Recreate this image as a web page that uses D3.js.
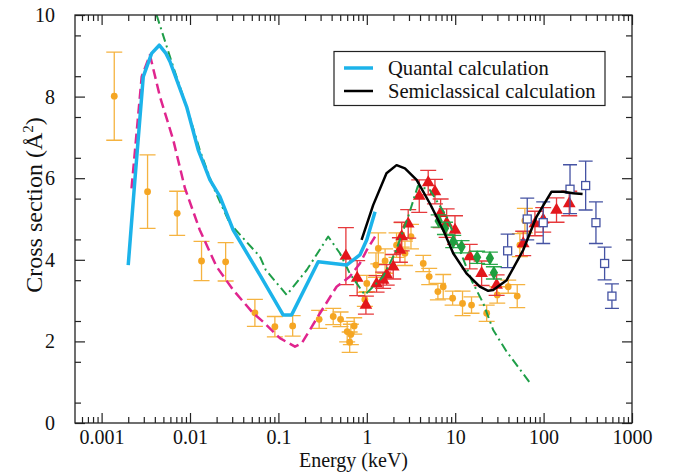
<!DOCTYPE html>
<html>
<head>
<meta charset="utf-8">
<script src="https://cdn.jsdelivr.net/npm/d3@7"></script>
<style>
  body { margin: 0; background: white; }
  text { font-family: 'Liberation Serif', 'Times New Roman', serif; fill: #111; }
</style>
</head>
<body>
<script>
// theory curves, energy in keV, cross section in A^2
const quantalE = [0.002, 0.00238, 0.00296, 0.00368, 0.00449, 0.00534, 0.00593, 0.00916, 0.0124, 0.0168, 0.0218, 0.0308, 0.0617, 0.113, 0.141, 0.282, 0.59, 0.835, 1.0, 1.24];
const quantalS = [3.87, 5.96, 8.49, 9.06, 9.26, 9.06, 8.86, 7.75, 6.69, 5.96, 5.55, 4.73, 3.63, 2.65, 2.65, 3.95, 3.87, 4.12, 4.49, 5.18];

const semiE = [0.873, 1.18, 1.67, 2.17, 2.70, 3.66, 5.17, 7.32, 9.49, 13.4, 19.0, 23.6, 26.9, 38.2, 58.8, 83.3, 123, 167, 216, 276];
const semiS = [4.49, 5.34, 6.12, 6.32, 6.24, 5.96, 5.38, 4.73, 4.16, 3.67, 3.34, 3.24, 3.26, 3.50, 4.24, 5.06, 5.67, 5.67, 5.63, 5.61];

const dashE = [0.00218, 0.00284, 0.00352, 0.00457, 0.00646, 0.00875, 0.0129, 0.02, 0.0308, 0.0519, 0.0673, 0.104, 0.154, 0.183, 0.295, 0.455, 0.644, 0.835, 1.0, 1.24];
const dashS = [5.75, 8.49, 9.02, 8.0, 6.94, 5.76, 4.73, 3.83, 3.26, 2.69, 2.48, 2.08, 1.87, 1.95, 2.69, 3.34, 3.59, 3.91, 4.24, 4.57];

const dotE = [0.00419, 0.00646, 0.00916, 0.0129, 0.0183, 0.0282, 0.0617, 0.072, 0.124, 0.209, 0.366, 0.496, 0.644, 0.95, 1.18, 1.53, 2.08, 2.94, 3.78, 5.17, 8.0, 15.3, 20.8, 26.9, 38.2, 73.1];
const dotS = [10.0, 8.73, 7.75, 6.69, 5.79, 4.89, 4.08, 3.75, 3.14, 3.75, 4.57, 4.16, 3.66, 3.14, 3.34, 3.59, 4.16, 5.06, 5.81, 5.71, 5.06, 3.5, 2.93, 2.28, 1.75, 0.93];

// measurements
const orangeE = [0.00139, 0.00331, 0.00716, 0.0135, 0.0253, 0.0542, 0.0912, 0.145, 0.289, 0.417, 0.505, 0.60, 0.66, 0.72, 0.64, 0.95, 1.0, 1.27, 1.35, 1.61, 2.17, 2.48, 2.70, 3.16, 4.35, 5.08, 6.37, 7.32, 9.35, 12.1, 15.3, 22.7, 29.9, 39.8, 50.3, 53.9, 61.4];
const orangeS = [8.01, 5.67, 5.14, 3.97, 3.95, 2.70, 2.36, 2.38, 2.54, 2.61, 2.54, 2.24, 2.17, 2.38, 1.98, 3.03, 3.42, 3.87, 4.28, 3.97, 4.36, 4.61, 4.16, 4.57, 3.91, 3.59, 3.22, 3.34, 3.06, 2.93, 2.89, 2.69, 3.14, 3.34, 3.11, 4.36, 4.96];
const orangeErr = [1.08, 0.90, 0.54, 0.48, 0.47, 0.33, 0.25, 0.25, 0.22, 0.2, 0.18, 0.25, 0.25, 0.2, 0.25, 0.17, 0.2, 0.3, 0.38, 0.3, 0.3, 0.3, 0.3, 0.3, 0.2, 0.2, 0.2, 0.3, 0.17, 0.3, 0.2, 0.2, 0.2, 0.16, 0.28, 0.28, 0.3];

const redE = [0.58, 0.778, 0.977, 1.29, 1.53, 1.68, 1.99, 2.37, 2.48, 2.94, 3.92, 4.95, 5.90, 6.84, 8.0, 9.94, 14.6, 19.9, 29.4, 58.8, 79.8, 99, 140, 195];
const redS = [4.09, 3.55, 2.89, 3.41, 3.5, 3.63, 3.83, 4.24, 4.57, 4.88, 5.56, 5.89, 5.67, 5.14, 4.9, 4.73, 4.08, 3.67, 3.38, 4.40, 4.89, 4.98, 5.22, 5.38];
const redErr = [0.7, 0.43, 0.22, 0.2, 0.2, 0.25, 0.3, 0.3, 0.35, 0.35, 0.4, 0.3, 0.3, 0.35, 0.35, 0.35, 0.3, 0.3, 0.25, 0.3, 0.3, 0.3, 0.3, 0.3];

const greenE = [6.5, 7.66, 9.5, 11.8, 17.7, 24.7, 27.4];
const greenS = [4.95, 4.77, 4.45, 4.32, 4.06, 4.04, 3.68];
const greenErr = [0.15, 0.15, 0.15, 0.15, 0.15, 0.15, 0.15];

const squareE = [39.2, 65.3, 99, 199, 299, 391, 490, 593];
const squareS = [4.22, 5.0, 4.91, 5.73, 5.82, 4.91, 3.91, 3.11];
const squareErr = [0.41, 0.51, 0.51, 0.6, 0.6, 0.51, 0.4, 0.3];

const xTickLabels = ['0.001', '0.01', '0.1', '1', '10', '100', '1000'];
const yTickLabels = ['0', '2', '4', '6', '8', '10'];
const legendLabels = ['Quantal calculation', 'Semiclassical calculation'];

let dim = { width: 680, height: 473 };
let svg = d3.select('body').append('svg')
  .attr('width', dim.width)
  .attr('height', dim.height);

let plot = { left: 75, right: 632, top: 15, bottom: 423 };

let x = d3.scaleLog().domain([0.0005, 1000]).range([plot.left, plot.right]);
let y = d3.scaleLinear().domain([0, 10]).range([plot.bottom, plot.top]);

// tick values
let xMajor = xTickLabels.map(Number);
let xMinor = [];
for (let k = -4; k <= 2; k++) {
  for (let m = 2; m <= 9; m++) {
    let v = m * Math.pow(10, k);
    if (v > 0.00051 && v < 1000) xMinor.push(v);
  }
}
let yMajor = yTickLabels.map(Number);
let yMinor = d3.range(0.5, 10, 1);

svg.append('clipPath').attr('id', 'plot-area').append('rect')
  .attr('x', plot.left).attr('y', plot.top)
  .attr('width', plot.right - plot.left).attr('height', plot.bottom - plot.top);

function styleAxis(g) {
  g.select('.domain').remove();
  g.selectAll('line').attr('stroke', '#222').attr('stroke-width', 1.2);
  g.selectAll('text').style('font-family', "'Liberation Serif', serif").style('font-size', '20px').attr('fill', '#111');
}

// bottom
svg.append('g').attr('transform', `translate(0,${plot.bottom})`)
  .call(d3.axisBottom(x).tickValues(xMajor).tickFormat((d, i) => xTickLabels[i]).tickSize(-10).tickPadding(7))
  .call(styleAxis);
svg.append('g').attr('transform', `translate(0,${plot.bottom})`)
  .call(d3.axisBottom(x).tickValues(xMinor).tickFormat('').tickSize(-6))
  .call(styleAxis);
// top
svg.append('g').attr('transform', `translate(0,${plot.top})`)
  .call(d3.axisTop(x).tickValues(xMajor).tickFormat('').tickSize(-10))
  .call(styleAxis);
svg.append('g').attr('transform', `translate(0,${plot.top})`)
  .call(d3.axisTop(x).tickValues(xMinor).tickFormat('').tickSize(-6))
  .call(styleAxis);
// left
svg.append('g').attr('transform', `translate(${plot.left},0)`)
  .call(d3.axisLeft(y).tickValues(yMajor).tickFormat((d, i) => yTickLabels[i]).tickSize(-10).tickPadding(20))
  .call(styleAxis);
svg.append('g').attr('transform', `translate(${plot.left},0)`)
  .call(d3.axisLeft(y).tickValues(yMinor).tickFormat('').tickSize(-6))
  .call(styleAxis);
// right
svg.append('g').attr('transform', `translate(${plot.right},0)`)
  .call(d3.axisRight(y).tickValues(yMajor).tickFormat('').tickSize(-10))
  .call(styleAxis);
svg.append('g').attr('transform', `translate(${plot.right},0)`)
  .call(d3.axisRight(y).tickValues(yMinor).tickFormat('').tickSize(-6))
  .call(styleAxis);

let container = svg.append('g').attr('clip-path', 'url(#plot-area)');

function zipErr(es, ss, errs) {
  return es.map((e, i) => ({ e: e, s: ss[i], err: errs[i] }));
}

function errorBars(data, color, cap) {
  let g = container.append('g').attr('stroke', color).attr('stroke-width', 1.3).attr('fill', 'none');
  g.selectAll('path').data(data).enter().append('path')
    .attr('d', d => {
      let cx = x(d.e), y0 = y(d.s - d.err), y1 = y(d.s + d.err);
      return `M${cx},${y0}V${y1}M${cx - cap},${y1}H${cx + cap}M${cx - cap},${y0}H${cx + cap}`;
    });
}

// orange circles
let orange = zipErr(orangeE, orangeS, orangeErr);
errorBars(orange, '#f5b340', 8);
container.append('g').selectAll('circle').data(orange).enter().append('circle')
  .attr('cx', d => x(d.e)).attr('cy', d => y(d.s)).attr('r', 3.4)
  .attr('fill', '#f5a623');

// red triangles
let red = zipErr(redE, redS, redErr);
errorBars(red, '#e6393c', 8);
container.append('g').selectAll('path').data(red).enter().append('path')
  .attr('d', d3.symbol(d3.symbolTriangle, 70))
  .attr('transform', d => `translate(${x(d.e)},${y(d.s)})`)
  .attr('fill', '#e3171c');

// green diamonds
let green = zipErr(greenE, greenS, greenErr);
errorBars(green, '#2aa84a', 8);
container.append('g').selectAll('path').data(green).enter().append('path')
  .attr('d', d3.symbol(d3.symbolDiamond, 60))
  .attr('transform', d => `translate(${x(d.e)},${y(d.s)})`)
  .attr('fill', '#1f9e3f');

// open squares
let squares = zipErr(squareE, squareS, squareErr);
errorBars(squares, '#4553a3', 7);
container.append('g').selectAll('rect').data(squares).enter().append('rect')
  .attr('x', d => x(d.e) - 4).attr('y', d => y(d.s) - 4)
  .attr('width', 8).attr('height', 8)
  .attr('fill', 'white').attr('stroke', '#4553a3').attr('stroke-width', 1.3);

// theory lines
let line = d3.line().x(d => x(d[0])).y(d => y(d[1]));
function drawCurve(es, ss, color, width, dash) {
  container.append('path')
    .datum(es.map((e, i) => [e, ss[i]]))
    .attr('d', line)
    .attr('fill', 'none')
    .attr('stroke', color)
    .attr('stroke-width', width)
    .attr('stroke-linejoin', 'round')
    .attr('stroke-dasharray', dash);
}
drawCurve(dotE, dotS, '#1f9e48', 2, '9 4 2 4');
drawCurve(dashE, dashS, '#e0258e', 2.5, '10 5');
drawCurve(quantalE, quantalS, '#1cb3ea', 3.5, null);
drawCurve(semiE, semiS, '#000', 2.5, null);

// frame
svg.append('rect')
  .attr('x', plot.left).attr('y', plot.top)
  .attr('width', plot.right - plot.left).attr('height', plot.bottom - plot.top)
  .attr('fill', 'none').attr('stroke', '#222').attr('stroke-width', 1.3);

// axis titles
svg.append('text')
  .attr('x', (plot.left + plot.right) / 2).attr('y', 467)
  .attr('text-anchor', 'middle').style('font-size', '20px')
  .text('Energy (keV)');
let yt = svg.append('text')
  .attr('transform', 'translate(42,205) rotate(-90)')
  .attr('text-anchor', 'middle').style('font-size', '24px');
yt.append('tspan').text('Cross section (Å');
yt.append('tspan').attr('dy', -9).style('font-size', '15px').text('2');
yt.append('tspan').attr('dy', 9).text(')');

// legend
let legend = svg.append('g');
legend.append('rect')
  .attr('x', 334).attr('y', 51.5).attr('width', 271).attr('height', 54)
  .attr('fill', 'white').attr('stroke', '#222').attr('stroke-width', 1.2);
let legendColors = ['#1cb3ea', '#000'];
let legendWidths = [3.5, 2.5];
legendLabels.forEach((lab, i) => {
  let ly = 68 + i * 23;
  legend.append('line')
    .attr('x1', 344).attr('x2', 373).attr('y1', ly).attr('y2', ly)
    .attr('stroke', legendColors[i]).attr('stroke-width', legendWidths[i]);
  legend.append('text')
    .attr('x', 388).attr('y', ly + 7)
    .style('font-size', '20.6px')
    .text(lab);
});
</script>
</body>
</html>
